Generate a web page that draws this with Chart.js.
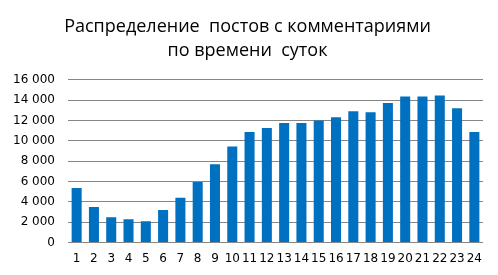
<!DOCTYPE html>
<html><head><meta charset="utf-8">
<script src="https://cdn.jsdelivr.net/npm/chart.js@4"></script>
<style>html,body{margin:0;padding:0;background:#fff}#w{width:498px;height:275px}</style>
</head><body><div id="w"><canvas id="c"></canvas></div>
<script>
const hours = ["1","2","3","4","5","6","7","8","9","10","11","12","13","14","15","16","17","18","19","20","21","22","23","24"];
const posts = [5350,3500,2500,2300,2100,3200,4400,5950,7700,9450,10850,11250,11750,11750,12000,12300,12900,12800,13700,14350,14350,14450,13200,10850];
const titleLines = ["Распределение  постов с комментариями","по времени  суток"];

new Chart(document.getElementById('c'), {
  type: 'bar',
  data: { labels: hours, datasets: [{ data: posts, backgroundColor: '#0070C0', categoryPercentage: 1, barPercentage: 0.58 }] },
  options: {
    responsive: true, maintainAspectRatio: false, animation: false,
    layout: { padding: { left: 12, right: 15, top: 14, bottom: 0 } },
    plugins: {
      legend: { display: false }, tooltip: { enabled: false },
      title: { display: true, text: titleLines, color: '#000', font: { family: 'Open Sans', size: 18, weight: 'normal', lineHeight: 1.38 }, padding: { top: 0, bottom: 16 } }
    },
    scales: {
      x: { grid: { display: false, drawTicks: false }, border: { display: false },
           ticks: { autoSkip: false, maxRotation: 0, color: '#000', padding: 9, font: { family: 'DejaVu Sans', size: 12 } } },
      y: { min: 0, max: 16000, grid: { color: '#868686', drawTicks: false }, border: { display: false },
           afterFit: s => { s.width = 56; },
           ticks: { stepSize: 2000, color: '#000', padding: 13, font: { family: 'DejaVu Sans', size: 12 },
                    callback: v => String(v).replace(/\B(?=(\d{3})+(?!\d))/g, ' ') } }
    }
  }
});
</script></body></html>
